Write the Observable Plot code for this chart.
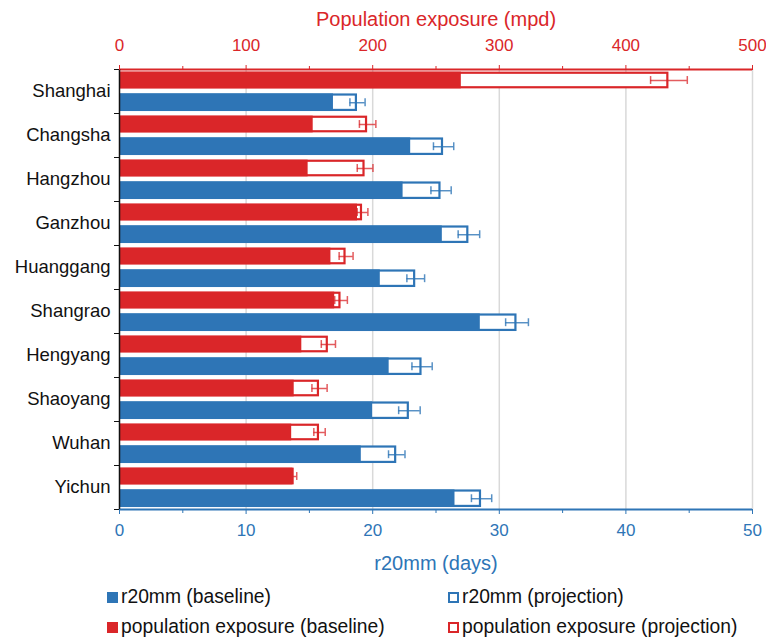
<!DOCTYPE html>
<html>
<head>
<meta charset="utf-8">
<script src="https://cdn.jsdelivr.net/npm/d3@7"></script>
<script src="https://cdn.jsdelivr.net/npm/@observablehq/plot@0.6"></script>
<style>
  html, body { margin: 0; padding: 0; background: #fff; }
  #wrap { position: relative; width: 766px; height: 637px; font-family: "Liberation Sans", Arial, sans-serif; }
  .leg { position: absolute; display: flex; align-items: center; font-size: 19.3px; color: #111; white-space: nowrap; }
  .sw { width: 11px; height: 11px; margin-right: 3px; box-sizing: border-box; }
</style>
</head>
<body>
<div id="wrap"></div>
<script>
const cities = ["Shanghai","Changsha","Hangzhou","Ganzhou","Huanggang","Shangrao","Hengyang","Shaoyang","Wuhan","Yichun"];
const popBaseline   = [270, 153, 149, 188, 167, 170, 144, 138, 136, 137];
const popProjection = [434, 196, 194, 192, 179, 175, 165, 158, 158, 138];
const popError      = [14.5, 6.5, 6.2, 4.2, 5.5, 5, 5.6, 6, 4.5, 2];
const r20Baseline   = [16.9, 23.0, 22.4, 25.5, 20.6, 28.5, 21.3, 20.0, 19.1, 26.5];
const r20Projection = [18.8, 25.6, 25.4, 27.6, 23.4, 31.4, 23.9, 22.9, 21.9, 28.6];
const r20Error      = [0.6, 0.8, 0.8, 0.85, 0.7, 0.9, 0.8, 0.85, 0.65, 0.8];
const popTicks = [0, 100, 200, 300, 400, 500];
const popMinorTicks = [50, 150, 250, 350, 450];
const dayTicks = [0, 10, 20, 30, 40, 50];
const dayMinorTicks = [5, 15, 25, 35, 45];
const topTitle = "Population exposure (mpd)";
const bottomTitle = "r20mm (days)";
const legendItems = [
  {label: "r20mm (baseline)", kind: "blue-fill"},
  {label: "r20mm (projection)", kind: "blue-outline"},
  {label: "population exposure (baseline)", kind: "red-fill"},
  {label: "population exposure (projection)", kind: "red-outline"}
];

const RED = "#da2629", BLUE = "#2e75b6";
const DAY = 10; // days are drawn on the shared x scale (1 day = 10 mpd)

const rows = cities.map((city, i) => ({
  city, i,
  pb: popBaseline[i], pp: popProjection[i], pe: popError[i],
  rb: r20Baseline[i] * DAY, rp: r20Projection[i] * DAY, re: r20Error[i] * DAY
}));

// sub-band placement (fractions of one city band)
const R0 = 0.06, R1 = 0.44, B0 = 0.555, B1 = 0.955, CAP = 0.09;
const rc = d => d.i + (R0 + R1) / 2, bc = d => d.i + (B0 + B1) / 2;

const chart = Plot.plot({
  width: 766, height: 580,
  marginLeft: 119, marginRight: 14, marginTop: 69, marginBottom: 71,
  style: {fontFamily: '"Liberation Sans", Arial, sans-serif', fontSize: "17px", background: "#fff"},
  x: {domain: [0, 500]},
  y: {domain: [0, 10], reverse: true},
  marks: [
    Plot.gridX(dayTicks.slice(1).map(t => t * DAY), {stroke: "#d9d9d9", strokeOpacity: 1, strokeWidth: 1.5}),
    // red: population exposure
    Plot.rectX(rows, {x1: 0, x2: "pp", y1: d => d.i + R0, y2: d => d.i + R1, fill: "#fff", stroke: RED, strokeWidth: 2.2, inset: 1.1}),
    Plot.rectX(rows, {x1: 0, x2: "pb", y1: d => d.i + R0, y2: d => d.i + R1, fill: RED}),
    Plot.ruleY(rows, {y: rc, x1: d => d.pp - d.pe, x2: d => d.pp + d.pe, stroke: RED, strokeOpacity: 0.75, strokeWidth: 1.5}),
    Plot.ruleX(rows, {x: d => d.pp - d.pe, y1: d => rc(d) - CAP, y2: d => rc(d) + CAP, stroke: RED, strokeOpacity: 0.75, strokeWidth: 1.5}),
    Plot.ruleX(rows, {x: d => d.pp + d.pe, y1: d => rc(d) - CAP, y2: d => rc(d) + CAP, stroke: RED, strokeOpacity: 0.75, strokeWidth: 1.5}),
    // blue: r20mm
    Plot.rectX(rows, {x1: 0, x2: "rp", y1: d => d.i + B0, y2: d => d.i + B1, fill: "#fff", stroke: BLUE, strokeWidth: 2.2, inset: 1.1}),
    Plot.rectX(rows, {x1: 0, x2: "rb", y1: d => d.i + B0, y2: d => d.i + B1, fill: BLUE}),
    Plot.ruleY(rows, {y: bc, x1: d => d.rp - d.re, x2: d => d.rp + d.re, stroke: BLUE, strokeOpacity: 0.8, strokeWidth: 1.5}),
    Plot.ruleX(rows, {x: d => d.rp - d.re, y1: d => bc(d) - CAP, y2: d => bc(d) + CAP, stroke: BLUE, strokeOpacity: 0.8, strokeWidth: 1.5}),
    Plot.ruleX(rows, {x: d => d.rp + d.re, y1: d => bc(d) - CAP, y2: d => bc(d) + CAP, stroke: BLUE, strokeOpacity: 0.8, strokeWidth: 1.5}),
    // axis lines
    Plot.ruleY([0], {stroke: RED, strokeWidth: 2}),
    Plot.ruleY([10], {stroke: BLUE, strokeWidth: 2}),
    Plot.ruleX([0], {stroke: "#111", strokeWidth: 1.5}),
    // top axis (population exposure)
    Plot.axisX({anchor: "top", ticks: popTicks, tickSize: 5, tickPadding: 14, color: RED, fontSize: 17,
      label: topTitle, labelArrow: "none", labelAnchor: "center", labelOffset: 58}),
    Plot.axisX({anchor: "top", ticks: popMinorTicks, tickSize: 4, color: RED, text: null, label: null}),
    // bottom axis (r20mm days)
    Plot.axisX({anchor: "bottom", ticks: dayTicks.map(t => t * DAY), tickFormat: d => String(d / DAY), tickSize: 5, tickPadding: 9,
      color: BLUE, fontSize: 17, label: bottomTitle, labelArrow: "none", labelAnchor: "center", labelOffset: 60}),
    Plot.axisX({anchor: "bottom", ticks: dayMinorTicks.map(t => t * DAY), tickSize: 4, color: BLUE, text: null, label: null}),
    // left axis
    Plot.axisY({ticks: d3.range(11), tickSize: 5, color: "#111", text: null, label: null}),
    Plot.axisY({ticks: cities.map((c, i) => i + 0.5), tickFormat: d => cities[Math.floor(d)], tickSize: 0, tickPadding: 9,
      color: "#111", fontSize: 18.5, label: null})
  ]
});

const wrap = document.getElementById("wrap");
wrap.appendChild(chart);

// axis titles: no arrow, larger font
chart.querySelectorAll("text").forEach(t => {
  const s = t.textContent.replace(/\s*[→←↑↓]\s*/g, "").trim();
  if (s === topTitle || s === bottomTitle) {
    t.textContent = s;
    t.style.fontSize = "20px";
  }
});

const legPos = [
  {left: 107, top: 597}, {left: 448, top: 597},
  {left: 107, top: 627}, {left: 448, top: 627}
];
legendItems.forEach((it, k) => {
  const div = document.createElement("div");
  div.className = "leg";
  div.style.left = legPos[k].left + "px";
  div.style.top = (legPos[k].top - 12) + "px";
  div.style.height = "24px";
  const sw = document.createElement("div");
  sw.className = "sw";
  const col = it.kind.startsWith("blue") ? BLUE : RED;
  if (it.kind.endsWith("fill")) sw.style.background = col;
  else { sw.style.background = "#fff"; sw.style.border = "2.5px solid " + col; }
  const tx = document.createElement("span");
  tx.textContent = it.label;
  div.appendChild(sw); div.appendChild(tx);
  wrap.appendChild(div);
});
</script>
</body>
</html>
